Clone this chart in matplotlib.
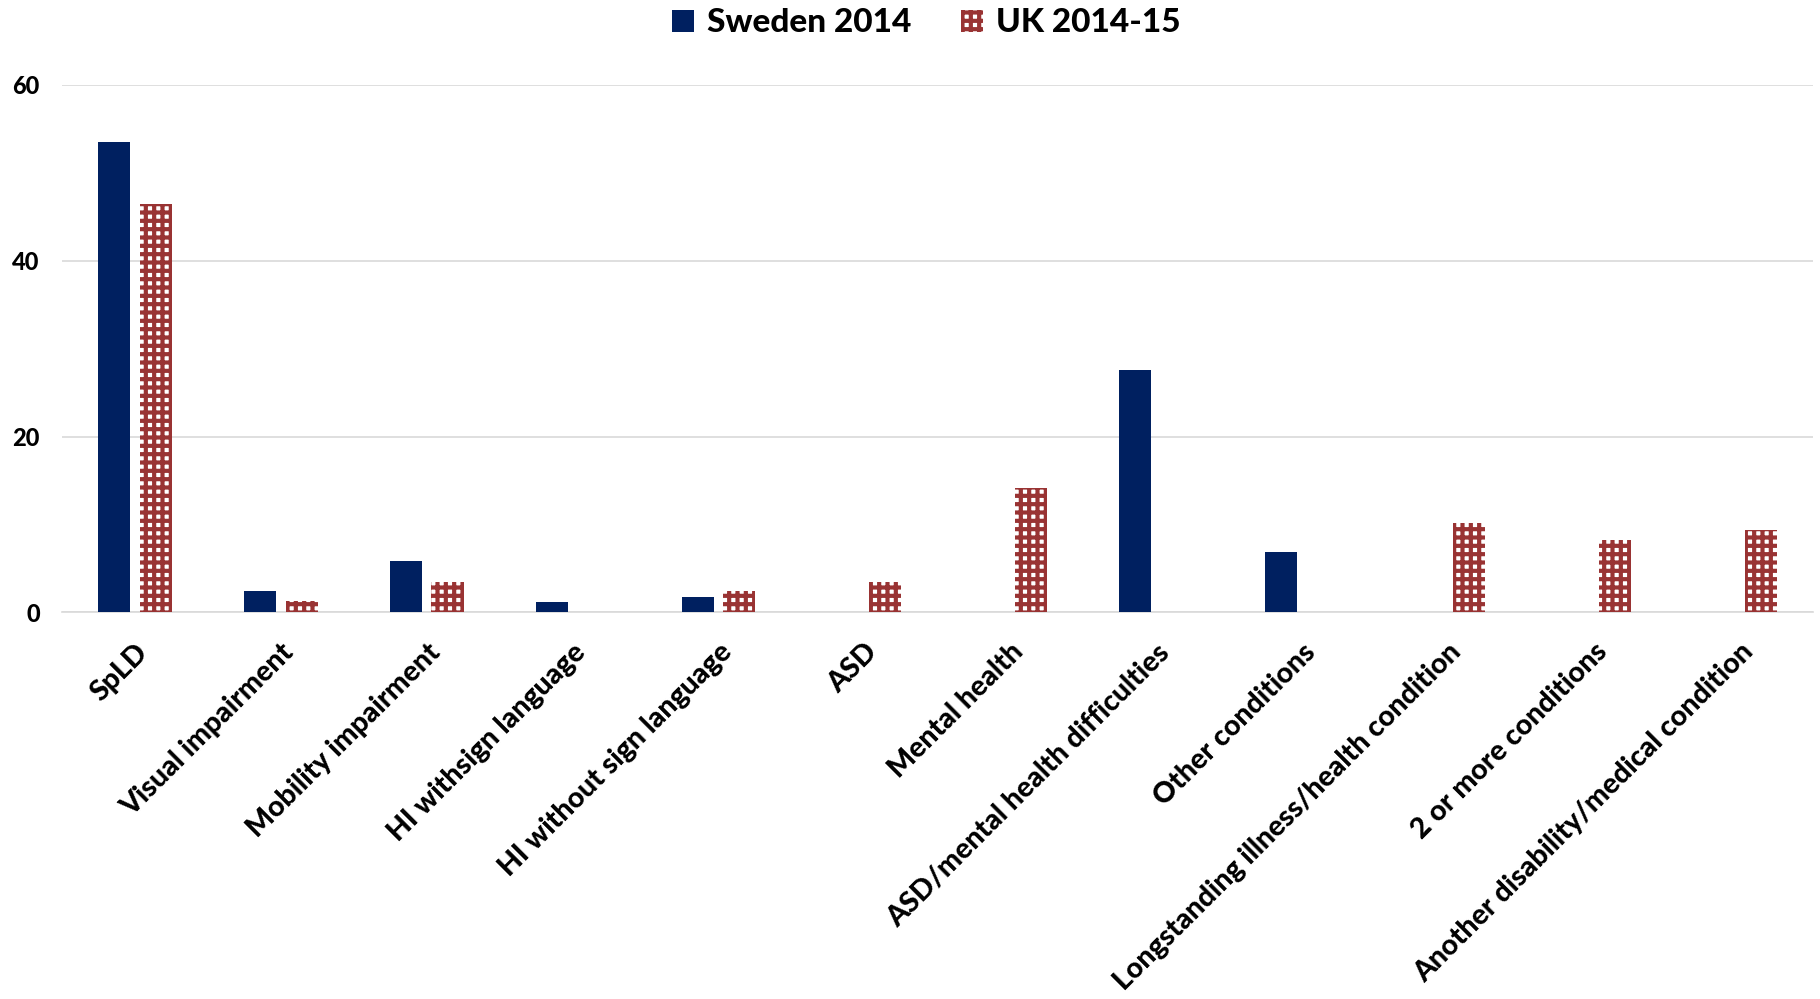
import matplotlib
matplotlib.use("Agg")
import matplotlib.pyplot as plt
import numpy as np
from matplotlib.patches import Patch

categories = ["SpLD", "Visual impairment", "Mobility impairment", "HI withsign language",
              "HI without sign language", "ASD", "Mental health", "ASD/mental health difficulties",
              "Other conditions", "Longstanding illness/health condition", "2 or more conditions",
              "Another disability/medical condition"]
sweden = [53.5, 2.4, 5.8, 1.2, 1.7, 0, 0, 27.6, 6.9, 0, 0, 0]
uk = [46.5, 1.3, 3.4, 0, 2.4, 3.4, 14.1, 0, 0, 10.2, 8.2, 9.4]
yticks = [0, 20, 40, 60]
series_names = ["Sweden 2014", "UK 2014-15"]

navy = "#002060"
red = "#993333"

plt.rcParams['font.family'] = ['Lato', 'DejaVu Sans']
plt.rcParams['hatch.linewidth'] = 3.0

fig = plt.figure(figsize=(18.2, 9.99), dpi=100)
ax = fig.add_axes([0.034, 0.387, 0.962, 0.528])

x = np.arange(len(categories))
w = 0.22
off = 0.143
sw = [v if v > 0 else np.nan for v in sweden]
uv = [v if v > 0 else np.nan for v in uk]
ax.bar(x - off, sw, width=w, color=navy, linewidth=0, zorder=3)
ax.bar(x + off, uv, width=w, facecolor="white", edgecolor=red, hatch="++", linewidth=0, zorder=3)

ax.set_xlim(-0.5, len(categories) - 0.5)
ax.set_ylim(0, 60)
ax.set_yticks(yticks)
ax.set_yticklabels([str(t) for t in yticks], fontsize=17, fontweight='black')
ax.yaxis.grid(True, color="#d9d9d9", linewidth=1.2, zorder=0)
ax.set_axisbelow(True)
for s in ["top", "right", "left"]:
    ax.spines[s].set_visible(False)
ax.spines["bottom"].set_color("#d9d9d9")
ax.spines["bottom"].set_linewidth(1.2)
ax.tick_params(axis='both', length=0)
ax.tick_params(axis='y', pad=16)
ax.tick_params(axis='x', pad=19)
ax.set_xticks(x)
ax.set_xticklabels(categories, rotation=45, ha='right', va='top', rotation_mode='anchor',
                   fontsize=20.5, fontweight='black')

handles = [Patch(facecolor=navy, edgecolor=navy, linewidth=0),
           Patch(facecolor="white", edgecolor=red, hatch="++", linewidth=0)]
fig.legend(handles, series_names, loc='center', bbox_to_anchor=(0.509, 0.977), ncol=2,
           frameon=False, prop={'size': 24, 'weight': 'black'},
           handlelength=0.65, handleheight=0.65, handletextpad=0.4, columnspacing=1.5)

fig.savefig("out.png", dpi=100)
